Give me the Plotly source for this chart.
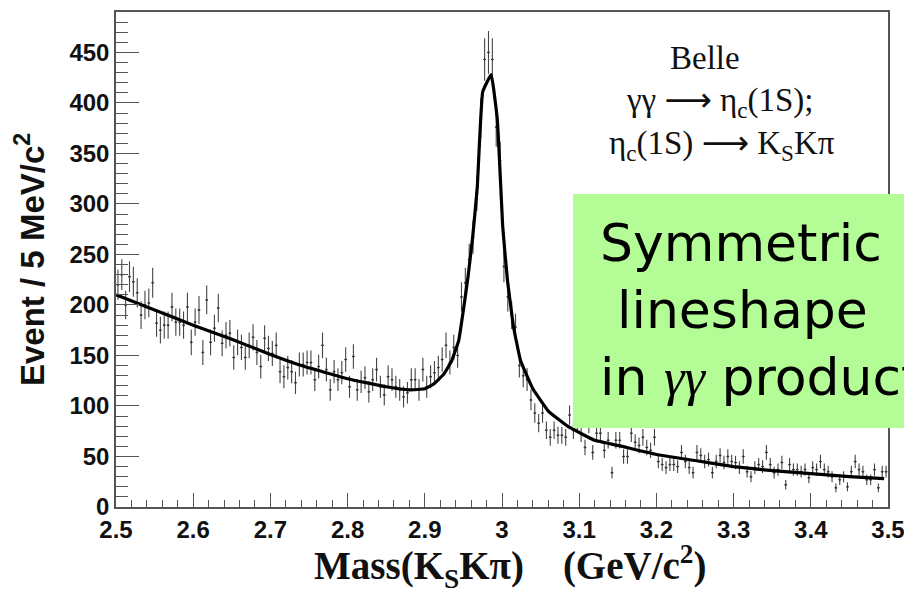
import numpy as np
import plotly.graph_objects as go

# ---------------- data ----------------
bin_lo = 2.5
bin_width = 0.005
counts = [
    220, 230, 200, 228, 223, 212, 190, 200, 202, 222, 182, 175, 180, 180, 198, 183, 183, 180, 198, 163,
    183, 195, 153, 205, 163, 177, 197, 162, 170,
    172, 148, 163, 158, 148, 160, 168, 153, 139, 167, 157, 152, 160, 134, 129, 138, 134, 123, 141, 141, 143,
    143, 126, 139, 160, 136, 116, 134, 126, 133, 146, 119, 149, 116, 124, 128, 114, 126, 136, 119, 111,
    129, 126, 119, 116, 109, 113, 126, 126, 116, 136, 119, 129, 133, 138, 146, 160, 143, 158, 150,
    208, 222, 245, 267, 311, 385, 443, 450, 443, 376, 343, 238, 208, 190, 178, 140, 130, 126, 106, 93,
    83, 93, 76, 69, 76, 71,
    71, 69, 91, 76, 84, 73, 59, 82, 54, 73, 73, 56, 66, 34, 66, 66, 50, 50, 73, 64, 61, 69, 59, 56, 69,
    45, 42, 39, 42, 42, 40, 54, 45, 39, 34, 54, 51, 45, 47, 34, 45, 51, 44,
    50, 45, 44, 39, 50, 35, 30, 39, 42, 40, 54, 42, 34, 37, 44, 22, 42, 37, 37, 35, 37, 29, 39, 37, 45,
    37, 35, 30, 19, 27, 30, 20, 35, 45, 37, 35, 27, 27, 37, 19, 35, 35,
]

fit_x = [2.50, 2.55, 2.60, 2.65, 2.70, 2.74, 2.80, 2.85, 2.88, 2.90, 2.912, 2.925, 2.935, 2.944,
         2.950, 2.956, 2.962, 2.968, 2.975, 2.986, 2.994, 3.001, 3.007, 3.015, 3.024, 3.04, 3.06,
         3.085, 3.12, 3.15, 3.20, 3.25, 3.30, 3.35, 3.40, 3.45, 3.495]
fit_y = [210, 195, 180, 166, 151, 140, 127, 119, 116, 117, 122, 132, 145, 165,
         195, 228, 267, 317, 411, 428, 383, 277, 225, 178, 145, 117, 95,
         80, 66, 61, 52, 46, 40, 36, 33, 30, 28]

x_tickvals = [2.5, 2.6, 2.7, 2.8, 2.9, 3.0, 3.1, 3.2, 3.3, 3.4, 3.5]
x_ticktext = ["2.5", "2.6", "2.7", "2.8", "2.9", "3", "3.1", "3.2", "3.3", "3.4", "3.5"]
y_tickvals = [0, 50, 100, 150, 200, 250, 300, 350, 400, 450]
y_ticktext = ["0", "50", "100", "150", "200", "250", "300", "350", "400", "450"]

counts = np.array(counts, dtype=float)
centers = bin_lo + bin_width * (np.arange(len(counts)) + 0.5)
errors = np.sqrt(counts)

# ---------------- geometry helpers ----------------
L, R, T, B = 116, 888, 12, 507
W, H = 904, 589


def px(xp):
    return (xp - L) / (R - L)


def py(yp):
    return (B - yp) / (B - T)


fig = go.Figure()

fig.add_trace(go.Scatter(
    x=centers, y=counts, mode="markers",
    marker=dict(size=2, color="#333"),
    error_y=dict(type="data", array=errors, thickness=1.1, width=0, color="#444"),
    error_x=dict(type="constant", value=0.0018, thickness=1.1, width=0, color="#444"),
    showlegend=False, hoverinfo="skip",
))

fig.add_trace(go.Scatter(
    x=fit_x, y=fit_y, mode="lines",
    line=dict(color="black", width=3.2, shape="spline", smoothing=0.3),
    showlegend=False, hoverinfo="skip",
))

tick_font = dict(family="Liberation Sans", size=24, color="#111", weight="bold")

fig.update_xaxes(
    range=[2.5, 3.5], tickvals=x_tickvals, ticktext=x_ticktext,
    ticks="inside", ticklen=14, tickwidth=1.2, tickcolor="#555",
    minor=dict(dtick=0.02, tick0=2.5, ticks="inside", ticklen=7, tickwidth=1.2, tickcolor="#555", showgrid=False),
    showline=True, linecolor="#555", linewidth=1.5, mirror=True,
    showgrid=False, zeroline=False, tickfont=tick_font,
    automargin=False, ticklabeloverflow="allow",
)
fig.update_yaxes(
    range=[0, 490], tickvals=y_tickvals, ticktext=y_ticktext,
    ticks="inside", ticklen=23, tickwidth=1.2, tickcolor="#555",
    minor=dict(dtick=10, tick0=0, ticks="inside", ticklen=12, tickwidth=1.2, tickcolor="#555", showgrid=False),
    showline=True, linecolor="#555", linewidth=1.5, mirror=True,
    showgrid=False, zeroline=False, tickfont=tick_font,
    automargin=False, ticklabeloverflow="allow",
)

annotations = []
# axis titles
annotations.append(dict(
    text="<b>Event / 5 MeV/c<sup>2</sup></b>", xref="paper", yref="paper",
    x=px(30), y=py(260), xanchor="center", yanchor="middle", textangle=-90,
    showarrow=False, font=dict(family="Liberation Sans", size=33, color="#111"),
))
annotations.append(dict(
    text="<b>Mass(K<sub>S</sub>Kπ)&nbsp;&nbsp;&nbsp;&nbsp;(GeV/c<sup>2</sup>)</b>", xref="paper", yref="paper",
    x=px(510), y=py(566), xanchor="center", yanchor="middle",
    showarrow=False, font=dict(family="Liberation Serif", size=39, color="#111"),
))
# Belle legend text
serif = dict(family="Liberation Serif", size=33, color="#111")
arrow = '<span style="font-family:DejaVu Sans">⟶</span>'
annotations.append(dict(text="Belle", xref="paper", yref="paper", x=px(705), y=py(58),
                        xanchor="center", yanchor="middle", showarrow=False, font=serif))
annotations.append(dict(text="γγ " + arrow + " η<sub>c</sub>(1S);", xref="paper", yref="paper", x=px(720), y=py(101),
                        xanchor="center", yanchor="middle", showarrow=False, font=serif))
annotations.append(dict(text="η<sub>c</sub>(1S) " + arrow + " K<sub>S</sub>Kπ", xref="paper", yref="paper", x=px(722), y=py(145),
                        xanchor="center", yanchor="middle", showarrow=False, font=serif))

# green box text
gfont = dict(family="DejaVu Sans", size=52, color="black")
annotations.append(dict(text="Symmetric", xref="paper", yref="paper", x=px(598), y=py(243),
                        xanchor="left", yanchor="middle", showarrow=False, font=gfont))
annotations.append(dict(text="lineshape", xref="paper", yref="paper", x=px(615), y=py(310),
                        xanchor="left", yanchor="middle", showarrow=False, font=gfont))
annotations.append(dict(
    text='in <span style="font-family:Liberation Serif;font-style:italic">γγ</span> production',
    xref="paper", yref="paper", x=px(598), y=py(377),
    xanchor="left", yanchor="middle", showarrow=False, font=gfont))

fig.update_layout(
    width=W, height=H,
    margin=dict(l=L, r=W - R, t=T, b=H - B),
    paper_bgcolor="white", plot_bgcolor="white",
    annotations=annotations,
    shapes=[dict(type="rect", xref="paper", yref="paper",
                 x0=px(573), x1=px(960), y0=py(428), y1=py(194),
                 fillcolor="#b4fc96", line=dict(width=0), layer="above")],
)

fig.write_html("out.html")
